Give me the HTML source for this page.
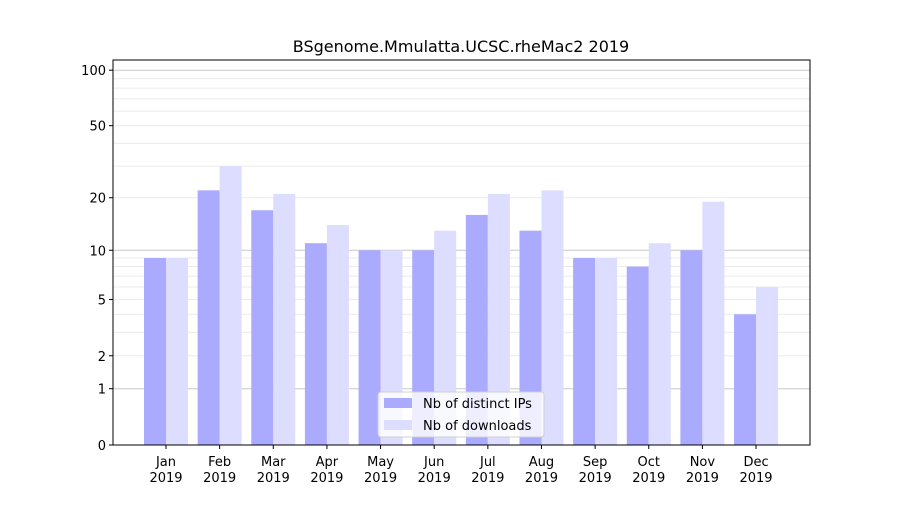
<!DOCTYPE html>
<html><head><meta charset="utf-8"><style>
body{margin:0;background:#fff;font-family:"Liberation Sans","DejaVu Sans",sans-serif;}
svg text{font-family:"DejaVu Sans","Liberation Sans",sans-serif;}
</style></head><body>
<svg id="chart" width="900" height="500" xmlns="http://www.w3.org/2000/svg">
<rect width="900" height="500" fill="#fff"/>
<text x="461" y="52" font-size="16" text-anchor="middle" fill="#000">BSgenome.Mmulatta.UCSC.rheMac2 2019</text>
<g id="grid"></g><g id="bars"></g><g id="axes"></g>
</svg>
<script>
const months = ["Jan","Feb","Mar","Apr","May","Jun","Jul","Aug","Sep","Oct","Nov","Dec"];
const ipValues = [9,22,17,11,10,10,16,13,9,8,10,4];
const downloadValues = [9,30,21,14,10,13,21,22,9,11,19,6];
const yTicks = [0,1,2,5,10,20,50,100];
const NS="http://www.w3.org/2000/svg";
const L=113,R=810,T=60,B=445;
function y(v){return B-187*Math.log10(1+v);}
function xc(i){return 166+i*53.64;}
function mk(tag,attrs,parent){const e=document.createElementNS(NS,tag);for(const k in attrs)e.setAttribute(k,attrs[k]);parent.appendChild(e);return e;}
const grid=document.getElementById('grid'),bars=document.getElementById('bars'),axes=document.getElementById('axes');
const minors=[2,3,4,5,6,7,8,9,20,30,40,50,60,70,80,90];
minors.forEach(v=>{const l=mk('line',{x1:L,x2:R,y1:y(v),y2:y(v),stroke:'#ebebeb','stroke-width':1},grid);

});
[1,10,100].forEach(v=>{const l=mk('line',{x1:L,x2:R,y1:y(v),y2:y(v),stroke:'#c8c8c8','stroke-width':1},grid);

});
months.forEach((m,i)=>{
 const b1=mk('rect',{x:xc(i)-22,y:y(ipValues[i]),width:22,height:B-y(ipValues[i]),fill:'#aaaaff'},bars);
 
 
 const b2=mk('rect',{x:xc(i),y:y(downloadValues[i]),width:22,height:B-y(downloadValues[i]),fill:'#ddddff'},bars);
 
 
 mk('line',{x1:xc(i),x2:xc(i),y1:B,y2:B+4,stroke:'#000'},axes);
 const t=mk('text',{x:xc(i),y:B+21,'font-size':13,'text-anchor':'middle'},axes);
 
 
 t.textContent=m;
 const t2=mk('text',{x:xc(i),y:B+37,'font-size':13,'text-anchor':'middle'},axes);
 
 
 t2.textContent='2019';
});
yTicks.forEach(v=>{
 mk('line',{x1:L-4,x2:L,y1:y(v),y2:y(v),stroke:'#000'},axes);
 const t=mk('text',{x:L-7,y:y(v)+5,'font-size':13,'text-anchor':'end'},axes);
 
 
 t.textContent=v;
});
const frame=mk('rect',{x:L,y:T,width:R-L,height:B-T,fill:'none',stroke:'#000','stroke-width':1},axes);


const lg=mk('g',{},axes);


mk('rect',{x:378,y:392,width:166,height:45,fill:'#fff','fill-opacity':0.8,stroke:'#d0d0d0',rx:3},lg);
mk('rect',{x:384,y:398,width:28,height:10,fill:'#aaaaff'},lg);
mk('rect',{x:384,y:420,width:28,height:10,fill:'#ddddff'},lg);
const l1=mk('text',{x:423,y:408,'font-size':13},lg);


l1.textContent='Nb of distinct IPs';
const l2=mk('text',{x:423,y:430,'font-size':13},lg);


l2.textContent='Nb of downloads';
</script>
</body></html>
